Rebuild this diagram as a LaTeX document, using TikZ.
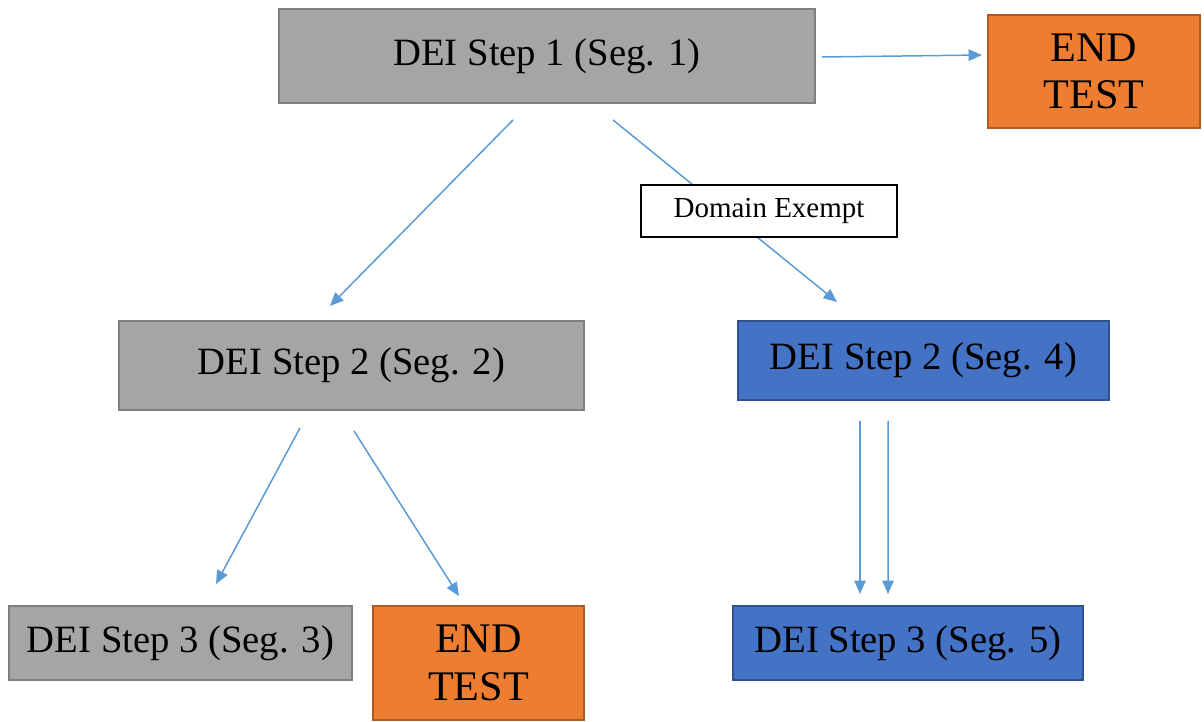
\documentclass[tikz,border=0pt]{standalone}
\usepackage{fontspec}
\setmainfont{Liberation Serif}
\usetikzlibrary{arrows.meta}
\definecolor{segGray}{HTML}{A5A5A5}
\definecolor{segGrayLine}{HTML}{7F7F7F}
\definecolor{segBlue}{HTML}{4472C4}
\definecolor{segBlueLine}{HTML}{2F528F}
\definecolor{endOrange}{HTML}{ED7D31}
\definecolor{endOrangeLine}{HTML}{AE5A21}
\definecolor{flowBlue}{HTML}{5B9BD5}
\tikzset{
  segbox/.style={draw, line width=1.1pt, inner sep=0pt, font=\fontsize{22}{26}\selectfont},
  graybox/.style={segbox, fill=segGray, draw=segGrayLine},
  bluebox/.style={segbox, fill=segBlue, draw=segBlueLine},
  endbox/.style={segbox, fill=endOrange, draw=endOrangeLine, align=center, font=\fontsize{24}{27}\selectfont},
  exemptbox/.style={draw=black, fill=white, line width=0.8pt, inner sep=0pt, font=\fontsize{16.5}{18}\selectfont},
  flow/.style={draw=flowBlue, line width=0.85pt, -{Triangle[length=0.27cm,width=0.23cm]}}
}
\begin{document}
\begin{tikzpicture}
\useasboundingbox (0,0) rectangle (24.08,14.42);

%step 1
\node[graybox, minimum width=10.72cm, minimum height=1.88cm] (s1) at (10.94,13.30) {DEI Step 1 (Seg. 1)};
\node[endbox, minimum width=4.24cm, minimum height=2.26cm] (e1) at (21.88,12.99) {END\\TEST};

%step 2
\node[graybox, minimum width=9.30cm, minimum height=1.78cm] (s2) at (7.03,7.11) {DEI Step 2 (Seg. 2)};
\node[bluebox, minimum width=7.42cm, minimum height=1.58cm] (s4) at (18.47,7.21) {DEI Step 2 (Seg. 4)};

%step 3
\node[graybox, minimum width=6.86cm, minimum height=1.48cm] (s3) at (3.61,1.56) {DEI Step 3 (Seg. 3)};
\node[endbox, minimum width=4.22cm, minimum height=2.28cm] (e2) at (9.57,1.16) {END\\TEST};
\node[bluebox, minimum width=7.00cm, minimum height=1.48cm] (s5) at (18.16,1.56) {DEI Step 3 (Seg. 5)};

%arrows
\draw[flow] ([xshift=0.12cm,yshift=-0.02cm]s1.east) -- ([xshift=-0.10cm,yshift=0.33cm]e1.west);
\draw[flow] ([xshift=-0.68cm,yshift=-0.32cm]s1.south) -- ([xshift=-0.43cm,yshift=0.28cm]s2.north);
\draw[flow] ([xshift=1.32cm,yshift=-0.32cm]s1.south) -- ([xshift=-1.73cm,yshift=0.36cm]s4.north);
\draw[flow] ([xshift=-1.03cm,yshift=-0.34cm]s2.south) -- ([xshift=0.71cm,yshift=0.42cm]s3.north);
\draw[flow] ([xshift=0.05cm,yshift=-0.40cm]s2.south) -- ([xshift=-0.39cm,yshift=0.18cm]e2.north);
\draw[flow] ([xshift=-1.27cm,yshift=-0.40cm]s4.south) -- ([xshift=-0.96cm,yshift=0.22cm]s5.north);
\draw[flow] ([xshift=-0.71cm,yshift=-0.40cm]s4.south) -- ([xshift=-0.40cm,yshift=0.22cm]s5.north);

%label on the arrow
\node[exemptbox, minimum width=5.12cm, minimum height=1.04cm] (exempt) at (15.38,10.20) {Domain Exempt};
\end{tikzpicture}
\end{document}
